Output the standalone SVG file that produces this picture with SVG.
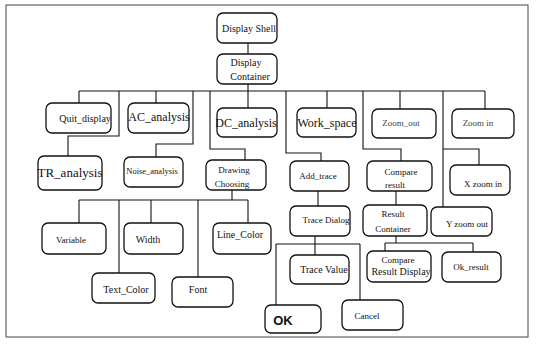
<svg xmlns="http://www.w3.org/2000/svg" width="538" height="346" viewBox="0 0 538 346">
  <style>
    .box { fill: #fff; stroke: #111; stroke-width: 1.3; }
    .wire { fill: none; stroke: #111; stroke-width: 1.1; }
    text { font-family: "Liberation Serif", "Times New Roman", serif; fill: #111; text-anchor: middle; }
    .s9 { font-size: 9px; }
    .s10 { font-size: 10px; }
    .s12 { font-size: 12px; }
    .faint { fill: #444; }
    .ok { font-family: "Liberation Sans", Arial, sans-serif; font-weight: bold; font-size: 13px; }
  </style>
  <rect width="538" height="346" fill="#fff"/>
  <!-- outer frame -->
  <rect x="6" y="5" width="522" height="332" fill="none" stroke="#444" stroke-width="1"/>

  <!-- connectors -->
  <g id="connectors">
    <path class="wire" d="M248 43V54"/>
    <path class="wire" d="M248 84V108"/>
    <path class="wire" d="M79 91H485"/>
    <path class="wire" d="M79 91V103"/>
    <path class="wire" d="M119 91V136H68V156"/>
    <path class="wire" d="M156 91V103"/>
    <path class="wire" d="M193 91V144H156V157"/>
    <path class="wire" d="M210 91V149H245V160"/>
    <path class="wire" d="M286 91V153H321V161"/>
    <path class="wire" d="M327 91V108"/>
    <path class="wire" d="M363 91V149H401V161"/>
    <path class="wire" d="M400 91V109"/>
    <path class="wire" d="M443 91V207"/>
    <path class="wire" d="M443 149H479V165"/>
    <path class="wire" d="M485 91V109"/>
    <!-- Drawing Choosing branches -->
    <path class="wire" d="M232 190V200"/>
    <path class="wire" d="M79 200H248"/>
    <path class="wire" d="M79 200V223"/>
    <path class="wire" d="M119 200V273"/>
    <path class="wire" d="M151 200V223"/>
    <path class="wire" d="M198 200V277"/>
    <path class="wire" d="M248 200V223"/>
    <!-- trace branches -->
    <path class="wire" d="M318 191V206"/>
    <path class="wire" d="M315 236V255"/>
    <path class="wire" d="M276 244H360"/>
    <path class="wire" d="M276 244V305"/>
    <path class="wire" d="M360 244V300"/>
    <!-- compare branches -->
    <path class="wire" d="M396 191V205"/>
    <path class="wire" d="M396 236V243"/>
    <path class="wire" d="M385 243H473"/>
    <path class="wire" d="M385 243V251"/>
    <path class="wire" d="M473 243V252"/>
  </g>

  <g id="display-shell"><rect class="box" x="217" y="13" width="60" height="30" rx="6"/><text class="s10" x="249" y="32">Display Shell</text></g>
  <g id="display-container"><rect class="box" x="217" y="54" width="60" height="30" rx="6"/><text class="s10" x="246" y="66">Display</text><text class="s10" x="250" y="80">Container</text></g>

  <g id="quit-display"><rect class="box" x="46" y="103" width="65" height="30" rx="6"/><text class="s10" x="85" y="122">Quit_display</text></g>
  <g id="ac-analysis"><rect class="box" x="128" y="103" width="61" height="30" rx="6"/><text class="s12" x="159" y="121">AC_analysis</text></g>
  <g id="dc-analysis"><rect class="box" x="217" y="108" width="60" height="29" rx="6"/><text class="s12" x="246" y="127">DC_analysis</text></g>
  <g id="work-space"><rect class="box" x="297" y="108" width="59" height="29" rx="6"/><text class="s12" x="327" y="127">Work_space</text></g>
  <g id="zoom-out"><rect class="box" x="372" y="109" width="64" height="29" rx="6"/><text class="s9 faint" x="401" y="126">Zoom_out</text></g>
  <g id="zoom-in"><rect class="box" x="452" y="109" width="62" height="29" rx="6"/><text class="s9 faint" x="478" y="126">Zoom in</text></g>

  <g id="tr-analysis"><rect class="box" x="38" y="156" width="64" height="34" rx="6"/><text x="70" y="177" font-size="13">TR_analysis</text></g>
  <g id="noise-analysis"><rect class="box" x="124" y="157" width="59" height="30" rx="6"/><text x="152" y="174" font-size="8.5">Noise_analysis</text></g>
  <g id="drawing-choosing"><rect class="box" x="206" y="160" width="60" height="30" rx="6"/><text class="s9" x="234" y="173">Drawing</text><text class="s9" x="232" y="187">Choosing</text></g>
  <g id="add-trace"><rect class="box" x="290" y="161" width="59" height="30" rx="6"/><text class="s9" x="318" y="179">Add_trace</text></g>
  <g id="compare-result"><rect class="box" x="367" y="161" width="65" height="30" rx="6"/><text class="s9" x="401" y="175">Compare</text><text class="s9" x="395" y="188">result</text></g>
  <g id="x-zoom-in"><rect class="box" x="450" y="165" width="60" height="30" rx="6"/><text class="s9" x="483" y="187">X  zoom in</text></g>

  <g id="trace-dialog"><rect class="box" x="290" y="206" width="60" height="30" rx="6"/><text class="s9" x="326" y="223">Trace Dialog</text></g>
  <g id="result-container"><rect class="box" x="363" y="205" width="64" height="31" rx="6"/><text class="s9" x="393" y="217">Result</text><text class="s9" x="393" y="232">Container</text></g>
  <g id="y-zoom-out"><rect class="box" x="431" y="207" width="61" height="29" rx="6"/><text class="s9" x="467" y="227">Y  zoom out</text></g>

  <g id="variable"><rect class="box" x="42" y="223" width="64" height="31" rx="6"/><text class="s9" x="71" y="243">Variable</text></g>
  <g id="width"><rect class="box" x="124" y="223" width="59" height="31" rx="6"/><text class="s10" x="148" y="243">Width</text></g>
  <g id="line-color"><rect class="box" x="213" y="223" width="58" height="31" rx="6"/><text class="s10" x="240" y="238">Line_Color</text></g>
  <g id="trace-value"><rect class="box" x="290" y="255" width="59" height="29" rx="6"/><text class="s10" x="324" y="273">Trace Value</text></g>
  <g id="compare-result-display"><rect class="box" x="367" y="251" width="64" height="31" rx="6"/><text class="s9" x="398" y="263">Compare</text><text class="s10" x="401" y="275">Result Display</text></g>
  <g id="ok-result"><rect class="box" x="442" y="252" width="59" height="30" rx="6"/><text class="s9" x="471" y="270">Ok_result</text></g>

  <g id="text-color"><rect class="box" x="92" y="273" width="63" height="30" rx="6"/><text class="s10" x="126" y="293">Text_Color</text></g>
  <g id="font"><rect class="box" x="172" y="277" width="61" height="30" rx="6"/><text class="s10" x="198" y="293">Font</text></g>
  <g id="ok"><rect class="box" x="265" y="305" width="56" height="28" rx="6"/><text class="ok" x="283" y="325">OK</text></g>
  <g id="cancel"><rect class="box" x="342" y="300" width="61" height="30" rx="6"/><text class="s9" x="367" y="319">Cancel</text></g>
</svg>
